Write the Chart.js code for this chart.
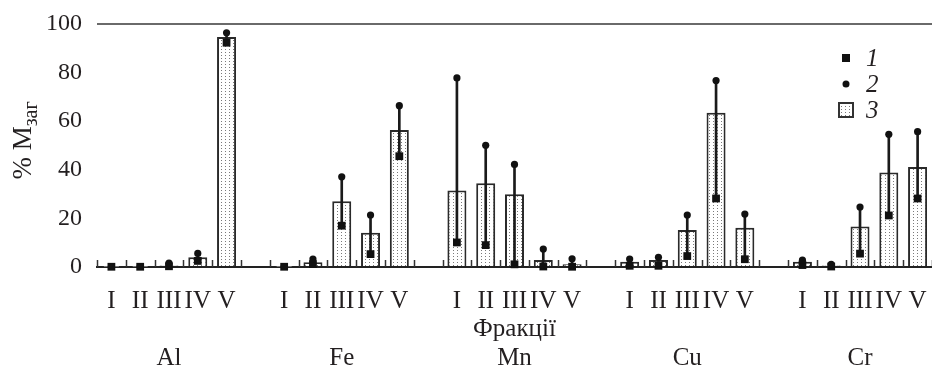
<!DOCTYPE html>
<html>
<head>
<meta charset="utf-8">
<script src="https://cdn.jsdelivr.net/npm/chart.js@4.4.1/dist/chart.umd.min.js"></script>
<style>
  html, body { margin: 0; padding: 0; background: #fff; }
  #wrap { width: 932px; height: 369px; }
</style>
</head>
<body>
<div id="wrap"><canvas id="c"></canvas></div>
<script>
// Elements and fractions
const elements = ['Al', 'Fe', 'Mn', 'Cu', 'Cr'];
const fractions = ['I', 'II', 'III', 'IV', 'V'];
const xTitle = 'Фракції';
const yTitleMain = '% M';
const yTitleSub = 'заг';
const yTickValues = [0, 20, 40, 60, 80, 100];
const seriesNames = ['1', '2', '3'];

// 1 — minimum, % of total content (fractions I..V, element by element)
const minAl = [0.1, 0.1, 0.3, 2.5, 92.3];
const minFe = [0.1, 1.2, 17.0, 5.3, 45.6];
const minMn = [10.1, 9.0, 1.1, 0.2, 0.1];
const minCu = [0.5, 0.5, 4.5, 28.2, 3.2];
const minCr = [0.8, 0.2, 5.5, 21.2, 28.2];

// 2 — maximum
const maxAl = [0.2, 0.2, 1.6, 5.6, 96.4];
const maxFe = [0.2, 3.3, 37.1, 21.4, 66.4];
const maxMn = [77.8, 50.1, 42.2, 7.4, 3.4];
const maxCu = [3.3, 4.0, 21.4, 76.7, 21.8];
const maxCr = [2.8, 1.1, 24.7, 54.6, 55.7];

// 3 — mean (bars)
const meanAl = [0.1, 0.1, 0.6, 4.0, 94.6];
const meanFe = [0.1, 2.0, 27.1, 14.1, 56.4];
const meanMn = [31.5, 34.5, 29.9, 2.9, 1.1];
const meanCu = [2.2, 2.9, 15.2, 63.5, 16.2];
const meanCr = [2.2, 0.6, 16.7, 38.9, 41.2];

const minRows = [minAl, minFe, minMn, minCu, minCr];
const maxRows = [maxAl, maxFe, maxMn, maxCu, maxCr];
const meanRows = [meanAl, meanFe, meanMn, meanCu, meanCr];

// Flatten into one category axis with an empty slot between elements
const labels = [];
const minData = [], maxData = [], meanData = [], rangeData = [];
elements.forEach((el, gi) => {
  fractions.forEach((fr, fi) => {
    if (fi === 2) labels.push([fr, gi === 2 ? xTitle : '', el]);
    else labels.push([fr]);
    minData.push(minRows[gi][fi]);
    maxData.push(maxRows[gi][fi]);
    meanData.push(meanRows[gi][fi]);
    rangeData.push([minRows[gi][fi], maxRows[gi][fi]]);
  });
  if (gi < elements.length - 1) {
    labels.push(['']);
    minData.push(null); maxData.push(null); meanData.push(null); rangeData.push(null);
  }
});

const FONT = "'Liberation Serif', 'DejaVu Serif', serif";
const INK = '#231f20';

// Stipple fill for the bars
function makeStipple() {
  const p = document.createElement('canvas');
  p.width = 4; p.height = 3;
  const g = p.getContext('2d');
  g.fillStyle = '#ffffff';
  g.fillRect(0, 0, 4, 3);
  g.fillStyle = '#7a7a7a';
  g.fillRect(1, 1, 1, 1);
  return g.createPattern(p, 'repeat');
}
const stipple = makeStipple();

// Short inward tick marks at every category boundary
const innerTicks = {
  id: 'innerTicks',
  afterDatasetsDraw(chart) {
    const x = chart.scales.x, ctx = chart.ctx;
    const y0 = chart.chartArea.bottom;
    ctx.save();
    ctx.strokeStyle = '#333';
    ctx.lineWidth = 1.5;
    for (let i = 0; i <= labels.length; i++) {
      const px = Math.round(x.getPixelForValue(i - 0.5)) + 0.5;
      ctx.beginPath();
      ctx.moveTo(px, y0);
      ctx.lineTo(px, y0 - 7);
      ctx.stroke();
    }
    ctx.restore();
  }
};

// Rotated y-axis title with a subscript
const yTitle = {
  id: 'yTitle',
  afterDraw(chart) {
    const ctx = chart.ctx, a = chart.chartArea;
    ctx.save();
    ctx.fillStyle = INK;
    ctx.textBaseline = 'alphabetic';
    ctx.textAlign = 'left';
    const mainFont = '27px ' + FONT, subFont = '20px ' + FONT;
    ctx.font = mainFont;
    const w1 = ctx.measureText(yTitleMain).width;
    ctx.font = subFont;
    const w2 = ctx.measureText(yTitleSub).width;
    const total = w1 + w2;
    ctx.translate(31, (a.top + a.bottom) / 2 - 5);
    ctx.rotate(-Math.PI / 2);
    ctx.font = mainFont;
    ctx.fillText(yTitleMain, -total / 2, 0);
    ctx.font = subFont;
    ctx.fillText(yTitleSub, -total / 2 + w1, 6);
    ctx.restore();
  }
};

// Legend in the upper right corner of the plot
const cornerLegend = {
  id: 'cornerLegend',
  afterDraw(chart) {
    const ctx = chart.ctx, a = chart.chartArea;
    const cx = a.right - 86;
    const rows = [a.top + 34, a.top + 60, a.top + 86];
    ctx.save();
    ctx.fillStyle = '#111';
    ctx.fillRect(cx - 4, rows[0] - 4, 8, 8);
    ctx.beginPath();
    ctx.arc(cx, rows[1], 3.5, 0, Math.PI * 2);
    ctx.fill();
    ctx.fillStyle = stipple;
    ctx.fillRect(cx - 7, rows[2] - 7, 14, 14);
    ctx.strokeStyle = '#333';
    ctx.lineWidth = 2;
    ctx.strokeRect(cx - 7, rows[2] - 7, 14, 14);
    ctx.fillStyle = INK;
    ctx.font = 'italic 25px ' + FONT;
    ctx.textBaseline = 'middle';
    ctx.textAlign = 'left';
    seriesNames.forEach((s, i) => ctx.fillText(s, cx + 20, rows[i] + 1));
    ctx.restore();
  }
};

new Chart(document.getElementById('c'), {
  type: 'bar',
  data: {
    labels: labels,
    datasets: [
      {
        label: seriesNames[2],
        data: meanData,
        backgroundColor: stipple,
        borderColor: '#2a2a2a',
        borderWidth: 2,
        borderSkipped: 'bottom',
        barPercentage: 0.66,
        categoryPercentage: 1,
        grouped: false,
        order: 3
      },
      {
        label: 'range',
        data: rangeData,
        backgroundColor: '#1a1a1a',
        borderWidth: 0,
        barThickness: 2,
        grouped: false,
        order: 2
      },
      {
        type: 'line',
        label: seriesNames[0],
        data: minData,
        showLine: false,
        pointStyle: 'rect',
        pointRadius: 5.5,
        pointBackgroundColor: '#111',
        pointBorderWidth: 0,
        clip: false,
        order: 1
      },
      {
        type: 'line',
        label: seriesNames[1],
        data: maxData,
        showLine: false,
        pointStyle: 'circle',
        pointRadius: 3.6,
        pointBackgroundColor: '#111',
        pointBorderWidth: 0,
        clip: false,
        order: 0
      }
    ]
  },
  options: {
    responsive: true,
    maintainAspectRatio: false,
    animation: false,
    events: [],
    layout: { autoPadding: false, padding: { top: 24, left: 0, right: 0, bottom: 0 } },
    plugins: { legend: { display: false }, tooltip: { enabled: false } },
    scales: {
      x: {
        offset: true,
        grid: { display: true, drawOnChartArea: false, drawTicks: false },
        border: { display: true, color: '#222', width: 2 },
        ticks: {
          autoSkip: false,
          maxRotation: 0,
          minRotation: 0,
          padding: 20,
          color: INK,
          font: { family: FONT, size: 25, lineHeight: 1.14 }
        },
        afterFit(s) { s.height = 102; s.paddingLeft = 0; s.paddingRight = 0; }
      },
      y: {
        min: 0,
        max: 100,
        afterBuildTicks(s) { s.ticks = yTickValues.map(v => ({ value: v })); },
        grid: {
          drawTicks: false,
          lineWidth: 2,
          color: c => (c.tick && c.tick.value === 100 ? '#6a6a6a' : 'rgba(0,0,0,0)')
        },
        border: { display: false },
        ticks: {
          padding: 15,
          color: INK,
          font: { family: FONT, size: 24 }
        },
        afterFit(s) { s.width = 97; s.paddingTop = 0; s.paddingBottom = 0; }
      }
    }
  },
  plugins: [innerTicks, yTitle, cornerLegend]
});
</script>
</body>
</html>
